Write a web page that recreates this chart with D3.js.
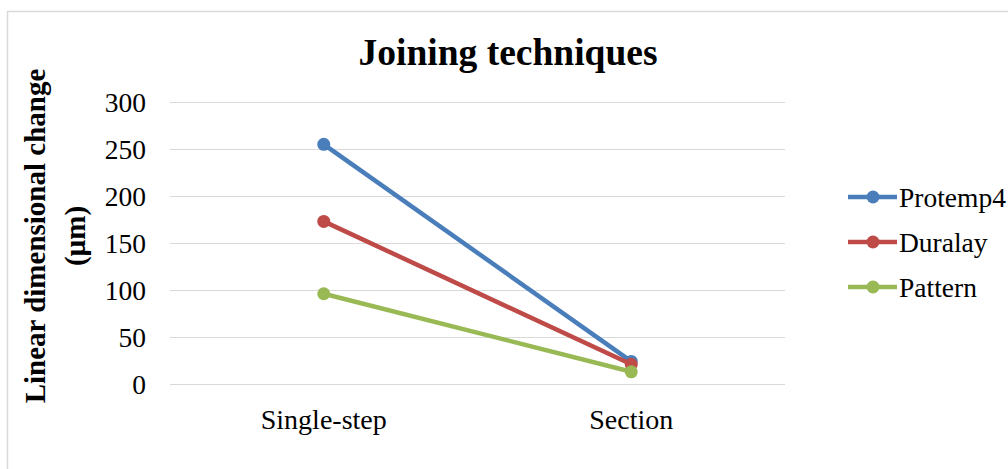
<!DOCTYPE html>
<html lang="en">
  <head>
    <meta charset="utf-8">
    <title>Joining techniques</title>
    <script src="https://cdn.jsdelivr.net/npm/d3@7/dist/d3.min.js"></script>
    <style>
      body { margin: 0; background: #fff; }
      svg text { font-family: "Liberation Serif", "Times New Roman", serif; }
    </style>
  </head>
  <body>
    <div id="main"></div>
  </body>

  <script type="text/javascript">

      // data
      const categories = ['Single-step', 'Section'];
      const seriesNames = ['Protemp4', 'Duralay', 'Pattern'];
      const protemp4 = [255, 24];
      const duralay = [173, 21];
      const pattern = [96, 13];
      const yTicks = [0, 50, 100, 150, 200, 250, 300];
      const colors = ['#4a7ebb', '#be4b48', '#98b954'];

      const seriesValues = [protemp4, duralay, pattern];

      const width = 1008, height = 469;

      let svg = d3.select('#main').append('svg')
        .attr('width', width)
        .attr('height', height);

      // outer chart border
      svg.append('rect')
        .attr('x', 7.5).attr('y', 11.5)
        .attr('width', 1010).attr('height', 470)
        .attr('fill', 'none')
        .attr('stroke', '#d9d9d9')
        .attr('stroke-width', 1.5);

      const plotLeft = 170, plotRight = 785;
      const x = d3.scaleBand().domain(categories).range([plotLeft, plotRight]);
      const y = d3.scaleLinear().domain([0, 300]).range([384, 102]);

      // gridlines
      svg.append('g').selectAll('line')
        .data(yTicks)
        .enter().append('line')
        .attr('x1', plotLeft).attr('x2', plotRight)
        .attr('y1', d => y(d) + 0.5).attr('y2', d => y(d) + 0.5)
        .attr('stroke', '#d9d9d9')
        .attr('stroke-width', 1.2);

      // y tick labels
      svg.append('g').selectAll('text')
        .data(yTicks)
        .enter().append('text')
        .attr('x', 146)
        .attr('y', d => y(d))
        .attr('dy', '0.35em')
        .attr('text-anchor', 'end')
        .attr('font-size', '27.5px')
        .attr('fill', '#000')
        .text(d => d);

      // category labels
      svg.append('g').selectAll('text')
        .data(categories)
        .enter().append('text')
        .attr('x', d => x(d) + x.bandwidth() / 2)
        .attr('y', 429)
        .attr('text-anchor', 'middle')
        .attr('font-size', '28px')
        .attr('fill', '#000')
        .text(d => d);

      // title
      svg.append('text')
        .attr('x', 508).attr('y', 65)
        .attr('text-anchor', 'middle')
        .attr('font-size', '37.5px')
        .attr('font-weight', 'bold')
        .text('Joining techniques');

      // y axis title (two lines, rotated)
      const yTitle = svg.append('text')
        .attr('transform', 'translate(45,236) rotate(-90)')
        .attr('text-anchor', 'middle')
        .attr('font-size', '29px')
        .attr('font-weight', 'bold');
      yTitle.append('tspan').attr('x', 0).attr('dy', 0).text('Linear dimensional change');
      yTitle.append('tspan').attr('x', 0).attr('dy', '1.38em').text('(µm)');

      // series lines and markers
      const line = d3.line()
        .x((d, i) => x(categories[i]) + x.bandwidth() / 2)
        .y(d => y(d));

      const series = svg.selectAll('g.series')
        .data(seriesValues)
        .enter().append('g')
        .attr('class', 'series');

      series.append('path')
        .attr('d', d => line(d))
        .attr('fill', 'none')
        .attr('stroke', (d, i) => colors[i])
        .attr('stroke-width', 4.5)
        .attr('stroke-linecap', 'round');

      series.each(function (vals, si) {
        d3.select(this).selectAll('circle')
          .data(vals)
          .enter().append('circle')
          .attr('cx', (d, i) => x(categories[i]) + x.bandwidth() / 2)
          .attr('cy', d => y(d))
          .attr('r', 6.5)
          .attr('fill', colors[si]);
      });

      // legend
      const legend = svg.selectAll('g.legend')
        .data(seriesNames)
        .enter().append('g')
        .attr('class', 'legend')
        .attr('transform', (d, i) => 'translate(848,' + (197 + i * 45) + ')');

      legend.append('line')
        .attr('x1', 0).attr('x2', 49)
        .attr('stroke', (d, i) => colors[i])
        .attr('stroke-width', 4.5);

      legend.append('circle')
        .attr('cx', 25).attr('r', 6.5)
        .attr('fill', (d, i) => colors[i]);

      legend.append('text')
        .attr('x', 51)
        .attr('dy', '0.35em')
        .attr('font-size', '27.5px')
        .text(d => d);

  </script>
</html>
